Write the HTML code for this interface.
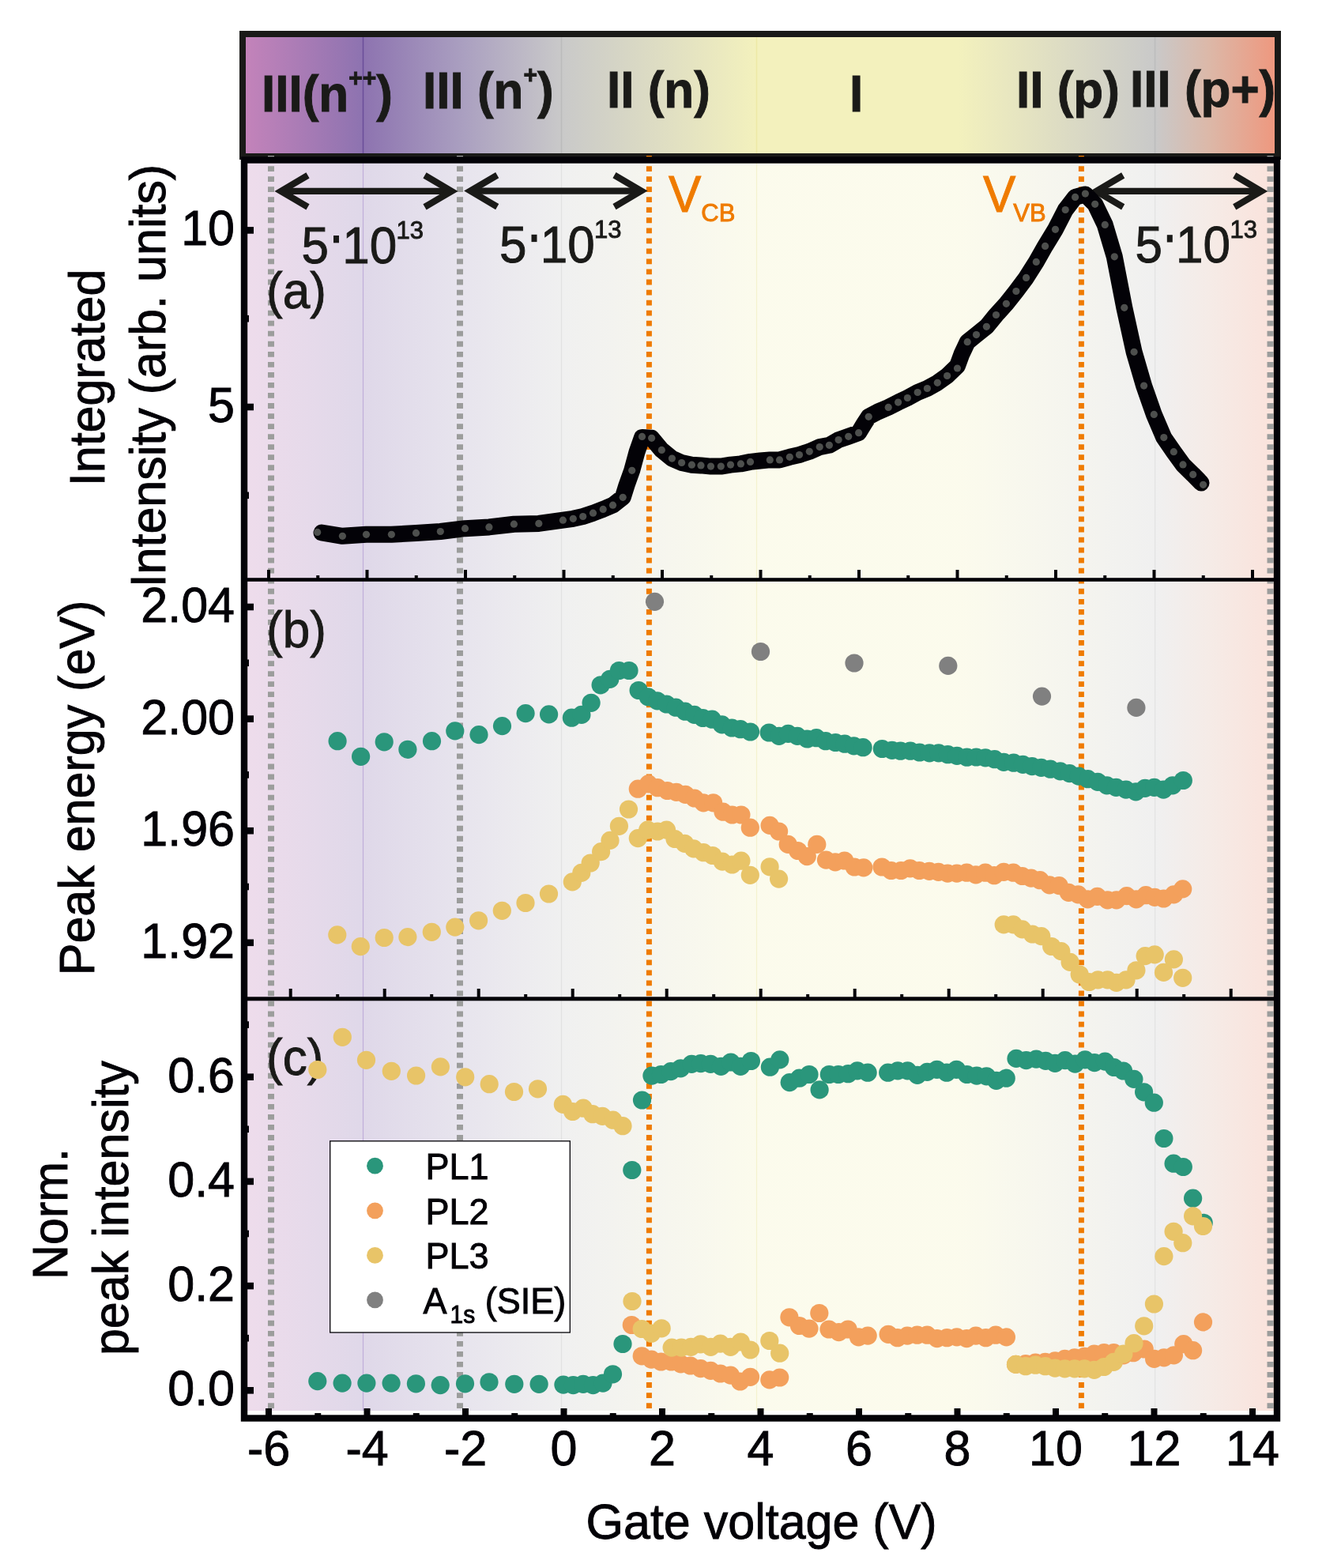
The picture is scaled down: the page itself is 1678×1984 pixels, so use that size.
<!DOCTYPE html>
<html><head><meta charset="utf-8"><title>Gate voltage dependence</title>
<style>
html,body{margin:0;padding:0;background:#fff;}
body{width:1678px;height:1984px;overflow:hidden;}
svg{display:block;}
text{font-family:"Liberation Sans", Arial, Helvetica, sans-serif;}
</style></head><body>
<svg width="1678" height="1984" viewBox="0 0 1678 1984">
<defs>
<linearGradient id="g" gradientUnits="userSpaceOnUse" x1="311" y1="0" x2="1613" y2="0"><stop offset="0.00000" stop-color="#c383ba"/><stop offset="0.11406" stop-color="#8d73b0"/><stop offset="0.21045" stop-color="#aa9fc0"/><stop offset="0.30684" stop-color="#c9c9c9"/><stop offset="0.49654" stop-color="#f3f1bd"/><stop offset="0.69278" stop-color="#f3f1bd"/><stop offset="0.88372" stop-color="#c9c9c9"/><stop offset="0.93625" stop-color="#dcb8a8"/><stop offset="1.00000" stop-color="#ee987f"/></linearGradient>
</defs>
<rect x="0" y="0" width="1678" height="1984" fill="#fff"/>

<g id="header">
<rect x="307" y="43" width="1310" height="155" fill="url(#g)"/>
<rect x="458.75" y="47" width="1.5" height="149" fill="#5d3f92" opacity="0.7"/>
<rect x="709.75" y="47" width="1.5" height="149" fill="#a0a0a0" opacity="0.35"/>
<rect x="956.75" y="47" width="1.5" height="149" fill="#e9e496" opacity="0.6"/>
<rect x="1460.85" y="47" width="1.5" height="149" fill="#a8a8a8" opacity="0.35"/>
<rect x="307" y="43" width="1310" height="155" fill="none" stroke="#1a1a18" stroke-width="8"/>
<text transform="translate(331 140.8) scale(1 1.04)" font-weight="bold" font-size="62" fill="#1a1a18" stroke="#1a1a18" stroke-width="0.9">III(n<tspan font-size="30" dy="-31" stroke="#1a1a18" stroke-width="0.9">++</tspan><tspan dy="31">)</tspan></text>
<text transform="translate(535 137) scale(1 1.04)" font-weight="bold" font-size="62" fill="#1a1a18" stroke="#1a1a18" stroke-width="0.9">III (n<tspan font-size="30" dy="-31" stroke="#1a1a18" stroke-width="0.9">+</tspan><tspan dy="31">)</tspan></text>
<text transform="translate(768 136) scale(1 1.04)" font-weight="bold" font-size="62" fill="#1a1a18" stroke="#1a1a18" stroke-width="0.9">II (n)</text>
<text transform="translate(1075 140.8) scale(1 1.04)" font-weight="bold" font-size="62" fill="#1a1a18" stroke="#1a1a18" stroke-width="0.9">I</text>
<text transform="translate(1286 135.7) scale(1 1.04)" font-weight="bold" font-size="62" fill="#1a1a18" stroke="#1a1a18" stroke-width="0.9">II (p)</text>
<text transform="translate(1430 134.7) scale(1 1.04)" font-weight="bold" font-size="62" fill="#1a1a18" stroke="#1a1a18" stroke-width="0.9">III (p+)</text>
</g>
<g id="bg">
<rect x="313" y="206" width="1299" height="1579" fill="url(#g)" opacity="0.28"/>
<rect x="458.9" y="206" width="1.2" height="1579" fill="#b9a5d6" opacity="0.8"/>
<rect x="709.9" y="206" width="1.2" height="1579" fill="#d8d8d8" opacity="0.6"/>
<rect x="956.9" y="206" width="1.2" height="1579" fill="#f2eec0" opacity="0.7"/>
<rect x="1461.0" y="206" width="1.2" height="1579" fill="#dadada" opacity="0.6"/>
</g>
<g id="dots">
<line x1="343" y1="197.1" x2="343" y2="1785" stroke="#9c9d9c" stroke-width="8" stroke-dasharray="6.8 6.242"/>
<line x1="582" y1="197.1" x2="582" y2="1785" stroke="#9c9d9c" stroke-width="8" stroke-dasharray="6.8 6.242"/>
<line x1="1607.5" y1="197.1" x2="1607.5" y2="1785" stroke="#9c9d9c" stroke-width="8" stroke-dasharray="6.8 6.242"/>
<line x1="821.4" y1="197.1" x2="821.4" y2="1785" stroke="#ef7b00" stroke-width="7" stroke-dasharray="6.8 6.242"/>
<line x1="1368.4" y1="197.1" x2="1368.4" y2="1785" stroke="#ef7b00" stroke-width="7" stroke-dasharray="6.8 6.242"/>
</g>
<text transform="translate(337 389.5) scale(1 1.04)" font-size="62" fill="#1a1a18" stroke="#1a1a18" stroke-width="0.9">(a)</text>
<text transform="translate(337 819) scale(1 1.04)" font-size="62" fill="#1a1a18" stroke="#1a1a18" stroke-width="0.9">(b)</text>
<text transform="translate(337 1360) scale(1 1.04)" font-size="62" fill="#1a1a18" stroke="#1a1a18" stroke-width="0.9">(c)</text>
<line x1="356" y1="241.9" x2="571" y2="241.9" stroke="#1a1a18" stroke-width="8.2"/><polyline points="389.5,221.9 355.5,241.9 389.5,261.9" fill="none" stroke="#1a1a18" stroke-width="8.2" stroke-linejoin="miter" stroke-miterlimit="10"/><polyline points="537.5,221.9 571.5,241.9 537.5,261.9" fill="none" stroke="#1a1a18" stroke-width="8.2" stroke-linejoin="miter" stroke-miterlimit="10"/>
<line x1="595.7" y1="241.6" x2="811" y2="241.6" stroke="#1a1a18" stroke-width="8.2"/><polyline points="629.2,221.6 595.2,241.6 629.2,261.6" fill="none" stroke="#1a1a18" stroke-width="8.2" stroke-linejoin="miter" stroke-miterlimit="10"/><polyline points="777.5,221.6 811.5,241.6 777.5,261.6" fill="none" stroke="#1a1a18" stroke-width="8.2" stroke-linejoin="miter" stroke-miterlimit="10"/>
<line x1="1387.7" y1="241.9" x2="1595.7" y2="241.9" stroke="#1a1a18" stroke-width="8.2"/><polyline points="1421.2,221.9 1387.2,241.9 1421.2,261.9" fill="none" stroke="#1a1a18" stroke-width="8.2" stroke-linejoin="miter" stroke-miterlimit="10"/><polyline points="1562.2,221.9 1596.2,241.9 1562.2,261.9" fill="none" stroke="#1a1a18" stroke-width="8.2" stroke-linejoin="miter" stroke-miterlimit="10"/>
<text transform="translate(381.6 332.8) scale(1 1.04)" font-size="62" fill="#1a1a18" stroke="#1a1a18" stroke-width="0.9">5</text><rect x="422.0" y="298.0" width="7" height="9.3" fill="#1a1a18"/><text transform="translate(433.20000000000005 332.8) scale(1 1.04)" font-size="62" fill="#1a1a18" stroke="#1a1a18" stroke-width="0.9">10</text><text transform="translate(501.6 301.8) scale(1 1.04)" font-size="31" fill="#1a1a18" stroke="#1a1a18" stroke-width="0.9">13</text>
<text transform="translate(632.1 331.6) scale(1 1.04)" font-size="62" fill="#1a1a18" stroke="#1a1a18" stroke-width="0.9">5</text><rect x="672.5" y="296.8" width="7" height="9.3" fill="#1a1a18"/><text transform="translate(683.7 331.6) scale(1 1.04)" font-size="62" fill="#1a1a18" stroke="#1a1a18" stroke-width="0.9">10</text><text transform="translate(752.1 300.6) scale(1 1.04)" font-size="31" fill="#1a1a18" stroke="#1a1a18" stroke-width="0.9">13</text>
<text transform="translate(1436.4 332) scale(1 1.04)" font-size="62" fill="#1a1a18" stroke="#1a1a18" stroke-width="0.9">5</text><rect x="1476.8000000000002" y="297.2" width="7" height="9.3" fill="#1a1a18"/><text transform="translate(1488.0 332) scale(1 1.04)" font-size="62" fill="#1a1a18" stroke="#1a1a18" stroke-width="0.9">10</text><text transform="translate(1556.4 301) scale(1 1.04)" font-size="31" fill="#1a1a18" stroke="#1a1a18" stroke-width="0.9">13</text>
<text transform="translate(846 268.3) scale(1 1.04)" font-size="62" fill="#ef7b00" stroke="#ef7b00" stroke-width="0.9">V<tspan font-size="31" dy="11.5">CB</tspan></text>
<text transform="translate(1244 268.3) scale(1 1.04)" font-size="62" fill="#ef7b00" stroke="#ef7b00" stroke-width="0.9">V<tspan font-size="31" dx="-3" dy="11">VB</tspan></text>
<polyline points="407,674 433.4,678.3 463.5,676.3 495.4,676.3 526.5,674.4 557.3,672.5 588.5,668.7 618.9,666.9 650.4,663.2 681.8,662.4 712.4,658.2 725.3,656.3 737.7,653.5 750.5,649.2 763.2,644.4 775.5,639.2 788.2,629.3 793,614 799.7,595.3 806,572 812.5,553.4 824.6,554.3 837.3,569.4 850.4,580.1 862.6,585.5 875.4,588.2 887,588.9 899.5,590.1 912.3,590.1 924.5,588.1 937.4,586.9 949.5,584.4 962,583 974.3,581.9 986.5,581.9 999.3,578.3 1011.5,575.5 1024.3,571.3 1037.2,565.6 1049.4,563.3 1061.1,556.6 1073.7,552.3 1086.6,547.7 1093,537 1099.2,527.3 1111,521 1124.2,515.4 1136.6,509.1 1148.4,503.5 1161.2,496.5 1173.4,491.5 1186.3,484.3 1198.6,475.5 1211.5,463 1217,448 1224.2,432.7 1235.5,423.6 1248.4,413.3 1260.5,398.5 1273.4,384.3 1285.9,368.5 1298.6,351.4 1311.3,331.4 1322.6,311.4 1335.5,290.3 1348.2,265.5 1360.6,249.4 1373.4,246 1385.7,258.3 1398.3,284.4 1410.3,324.8 1422.8,389.3 1435.1,445.3 1447.6,488.1 1460.3,524.4 1472.8,553.6 1485.3,571.7 1497,587.9 1509.7,600.4 1520,611" fill="none" stroke="#030207" stroke-width="21" stroke-linejoin="round" stroke-linecap="round"/>
<g fill="#4d4f4d"><circle cx="401.7" cy="673.4" r="4.6"/><circle cx="433.4" cy="678.3" r="4.6"/><circle cx="463.5" cy="676.3" r="4.6"/><circle cx="495.4" cy="676.3" r="4.6"/><circle cx="526.5" cy="674.4" r="4.6"/><circle cx="557.3" cy="672.5" r="4.6"/><circle cx="588.5" cy="668.7" r="4.6"/><circle cx="618.9" cy="666.9" r="4.6"/><circle cx="650.4" cy="663.2" r="4.6"/><circle cx="681.8" cy="662.4" r="4.6"/><circle cx="712.4" cy="658.2" r="4.6"/><circle cx="725.3" cy="656.3" r="4.6"/><circle cx="737.7" cy="653.5" r="4.6"/><circle cx="750.5" cy="649.2" r="4.6"/><circle cx="763.2" cy="644.4" r="4.6"/><circle cx="775.5" cy="639.2" r="4.6"/><circle cx="788.2" cy="629.3" r="4.6"/><circle cx="799.7" cy="595.3" r="4.6"/><circle cx="812.5" cy="552.4" r="4.6"/><circle cx="824.6" cy="554.3" r="4.6"/><circle cx="837.3" cy="569.4" r="4.6"/><circle cx="850.4" cy="580.1" r="4.6"/><circle cx="862.6" cy="585.5" r="4.6"/><circle cx="875.4" cy="588.2" r="4.6"/><circle cx="887" cy="588.9" r="4.6"/><circle cx="899.5" cy="590.1" r="4.6"/><circle cx="912.3" cy="590.1" r="4.6"/><circle cx="924.5" cy="588.1" r="4.6"/><circle cx="937.4" cy="586.9" r="4.6"/><circle cx="949.5" cy="584.4" r="4.6"/><circle cx="974.3" cy="581.9" r="4.6"/><circle cx="986.5" cy="581.9" r="4.6"/><circle cx="999.3" cy="578.3" r="4.6"/><circle cx="1011.5" cy="575.5" r="4.6"/><circle cx="1024.3" cy="571.3" r="4.6"/><circle cx="1037.2" cy="565.6" r="4.6"/><circle cx="1049.4" cy="563.3" r="4.6"/><circle cx="1061.1" cy="556.6" r="4.6"/><circle cx="1073.7" cy="552.3" r="4.6"/><circle cx="1086.6" cy="547.7" r="4.6"/><circle cx="1099.2" cy="527.3" r="4.6"/><circle cx="1124.2" cy="515.4" r="4.6"/><circle cx="1136.6" cy="509.1" r="4.6"/><circle cx="1148.4" cy="503.5" r="4.6"/><circle cx="1161.2" cy="496.5" r="4.6"/><circle cx="1173.4" cy="491.5" r="4.6"/><circle cx="1186.3" cy="484.3" r="4.6"/><circle cx="1198.6" cy="475.5" r="4.6"/><circle cx="1211.5" cy="466" r="4.6"/><circle cx="1224.2" cy="432.7" r="4.6"/><circle cx="1235.5" cy="423.6" r="4.6"/><circle cx="1248.4" cy="413.3" r="4.6"/><circle cx="1260.5" cy="398.5" r="4.6"/><circle cx="1273.4" cy="384.3" r="4.6"/><circle cx="1285.9" cy="368.5" r="4.6"/><circle cx="1298.6" cy="351.4" r="4.6"/><circle cx="1311.3" cy="331.4" r="4.6"/><circle cx="1322.6" cy="311.4" r="4.6"/><circle cx="1335.5" cy="290.3" r="4.6"/><circle cx="1348.2" cy="265.5" r="4.6"/><circle cx="1360.6" cy="249.4" r="4.6"/><circle cx="1373.4" cy="245.1" r="4.6"/><circle cx="1385.7" cy="258.3" r="4.6"/><circle cx="1398.3" cy="284.4" r="4.6"/><circle cx="1410.3" cy="324.8" r="4.6"/><circle cx="1422.8" cy="389.3" r="4.6"/><circle cx="1435.1" cy="445.3" r="4.6"/><circle cx="1447.6" cy="488.1" r="4.6"/><circle cx="1460.3" cy="524.4" r="4.6"/><circle cx="1472.8" cy="553.6" r="4.6"/><circle cx="1485.3" cy="571.7" r="4.6"/><circle cx="1497" cy="587.9" r="4.6"/><circle cx="1509.7" cy="600.4" r="4.6"/><circle cx="1522.6" cy="613.3" r="4.6"/></g>
<g fill="#2a967b"><circle cx="427.1" cy="937.7" r="11.6"/><circle cx="456.6" cy="957.3" r="11.6"/><circle cx="486.2" cy="938.8" r="11.6"/><circle cx="515.9" cy="948.3" r="11.6"/><circle cx="546.5" cy="937.7" r="11.6"/><circle cx="575.8" cy="924.9" r="11.6"/><circle cx="606" cy="929.6" r="11.6"/><circle cx="635.5" cy="918.6" r="11.6"/><circle cx="665.1" cy="902.6" r="11.6"/><circle cx="694.6" cy="903.9" r="11.6"/><circle cx="723.4" cy="908.2" r="11.6"/><circle cx="735.9" cy="904.4" r="11.6"/><circle cx="748.1" cy="889.3" r="11.6"/><circle cx="760.1" cy="866.8" r="11.6"/><circle cx="771.8" cy="859.3" r="11.6"/><circle cx="783.4" cy="848.5" r="11.6"/><circle cx="796" cy="848.5" r="11.6"/><circle cx="808.1" cy="873.5" r="11.6"/><circle cx="820.2" cy="881.8" r="11.6"/><circle cx="831.8" cy="886.8" r="11.6"/><circle cx="843.5" cy="891" r="11.6"/><circle cx="855.2" cy="895.2" r="11.6"/><circle cx="866.9" cy="900.2" r="11.6"/><circle cx="878.6" cy="904.4" r="11.6"/><circle cx="889.4" cy="908.5" r="11.6"/><circle cx="901.1" cy="910.2" r="11.6"/><circle cx="913.6" cy="916.9" r="11.6"/><circle cx="926.1" cy="921" r="11.6"/><circle cx="937" cy="922.7" r="11.6"/><circle cx="949.5" cy="926" r="11.6"/><circle cx="973.2" cy="927" r="11.6"/><circle cx="985.8" cy="931.4" r="11.6"/><circle cx="997.4" cy="928.4" r="11.6"/><circle cx="1009" cy="931.4" r="11.6"/><circle cx="1021.5" cy="935" r="11.6"/><circle cx="1033.1" cy="933.7" r="11.6"/><circle cx="1044.8" cy="937.7" r="11.6"/><circle cx="1057.3" cy="939.5" r="11.6"/><circle cx="1068.9" cy="941.2" r="11.6"/><circle cx="1080.5" cy="943.9" r="11.6"/><circle cx="1092.1" cy="945.7" r="11.6"/><circle cx="1116.3" cy="947.5" r="11.6"/><circle cx="1128.8" cy="949.3" r="11.6"/><circle cx="1139.5" cy="950.2" r="11.6"/><circle cx="1152" cy="950.2" r="11.6"/><circle cx="1163.7" cy="952" r="11.6"/><circle cx="1176.2" cy="952.9" r="11.6"/><circle cx="1187.8" cy="952.9" r="11.6"/><circle cx="1199.4" cy="954.7" r="11.6"/><circle cx="1211" cy="956.4" r="11.6"/><circle cx="1223.6" cy="958.2" r="11.6"/><circle cx="1235.4" cy="958" r="11.6"/><circle cx="1247" cy="958.9" r="11.6"/><circle cx="1258.6" cy="960.7" r="11.6"/><circle cx="1270.2" cy="964.3" r="11.6"/><circle cx="1282.7" cy="965.2" r="11.6"/><circle cx="1294.4" cy="967.3" r="11.6"/><circle cx="1306" cy="969.6" r="11.6"/><circle cx="1317.6" cy="971.4" r="11.6"/><circle cx="1329.2" cy="973.2" r="11.6"/><circle cx="1341.7" cy="975.9" r="11.6"/><circle cx="1353.4" cy="978.6" r="11.6"/><circle cx="1365" cy="982.1" r="11.6"/><circle cx="1376.6" cy="985.7" r="11.6"/><circle cx="1389.1" cy="989.3" r="11.6"/><circle cx="1400.7" cy="993.8" r="11.6"/><circle cx="1412.4" cy="996.4" r="11.6"/><circle cx="1424.9" cy="999.1" r="11.6"/><circle cx="1437.4" cy="1001.8" r="11.6"/><circle cx="1449" cy="997.3" r="11.6"/><circle cx="1460.6" cy="996.4" r="11.6"/><circle cx="1472.3" cy="999.1" r="11.6"/><circle cx="1483.9" cy="993.8" r="11.6"/><circle cx="1497.3" cy="987.5" r="11.6"/></g>
<g fill="#f3a05c"><circle cx="807.3" cy="998.2" r="11.6"/><circle cx="820.6" cy="991.9" r="11.6"/><circle cx="832.1" cy="996.7" r="11.6"/><circle cx="844.5" cy="1000.5" r="11.6"/><circle cx="855.9" cy="1002.4" r="11.6"/><circle cx="867.3" cy="1005.3" r="11.6"/><circle cx="878.8" cy="1010" r="11.6"/><circle cx="890.2" cy="1015.8" r="11.6"/><circle cx="902.6" cy="1015.8" r="11.6"/><circle cx="915" cy="1027.2" r="11.6"/><circle cx="926.5" cy="1031" r="11.6"/><circle cx="937.9" cy="1031" r="11.6"/><circle cx="949.3" cy="1047.2" r="11.6"/><circle cx="974.1" cy="1044.4" r="11.6"/><circle cx="985.6" cy="1052" r="11.6"/><circle cx="997.2" cy="1068.4" r="11.6"/><circle cx="1009.7" cy="1076.5" r="11.6"/><circle cx="1021.3" cy="1083.6" r="11.6"/><circle cx="1033.8" cy="1068.4" r="11.6"/><circle cx="1045.4" cy="1088.1" r="11.6"/><circle cx="1057" cy="1090.8" r="11.6"/><circle cx="1068.7" cy="1089" r="11.6"/><circle cx="1081.2" cy="1097" r="11.6"/><circle cx="1092.8" cy="1097.9" r="11.6"/><circle cx="1116" cy="1097" r="11.6"/><circle cx="1127.7" cy="1101.5" r="11.6"/><circle cx="1140.2" cy="1101.5" r="11.6"/><circle cx="1151.8" cy="1098.8" r="11.6"/><circle cx="1163.4" cy="1101.5" r="11.6"/><circle cx="1176" cy="1102.4" r="11.6"/><circle cx="1187.6" cy="1103.3" r="11.6"/><circle cx="1199.2" cy="1105.1" r="11.6"/><circle cx="1210.8" cy="1105.1" r="11.6"/><circle cx="1223.3" cy="1104.2" r="11.6"/><circle cx="1234.9" cy="1106.9" r="11.6"/><circle cx="1246.9" cy="1104.2" r="11.6"/><circle cx="1258.1" cy="1107.7" r="11.6"/><circle cx="1270.2" cy="1103.3" r="11.6"/><circle cx="1282.3" cy="1104.2" r="11.6"/><circle cx="1293.6" cy="1108.5" r="11.6"/><circle cx="1304.8" cy="1111.1" r="11.6"/><circle cx="1316" cy="1113.7" r="11.6"/><circle cx="1328.1" cy="1119.8" r="11.6"/><circle cx="1340.2" cy="1120.6" r="11.6"/><circle cx="1352.3" cy="1129.3" r="11.6"/><circle cx="1364.4" cy="1131.9" r="11.6"/><circle cx="1376.5" cy="1137.9" r="11.6"/><circle cx="1388.6" cy="1134.4" r="11.6"/><circle cx="1401.6" cy="1138.8" r="11.6"/><circle cx="1412.8" cy="1138.8" r="11.6"/><circle cx="1425.8" cy="1133.6" r="11.6"/><circle cx="1437.9" cy="1137.9" r="11.6"/><circle cx="1450" cy="1132.7" r="11.6"/><circle cx="1461.2" cy="1135.3" r="11.6"/><circle cx="1472.5" cy="1137" r="11.6"/><circle cx="1485.4" cy="1131.9" r="11.6"/><circle cx="1496.7" cy="1124.9" r="11.6"/></g>
<g fill="#e8c468"><circle cx="426.8" cy="1182.9" r="11.6"/><circle cx="456.3" cy="1197.6" r="11.6"/><circle cx="486.2" cy="1186.5" r="11.6"/><circle cx="515.9" cy="1185.6" r="11.6"/><circle cx="546.3" cy="1179.3" r="11.6"/><circle cx="575.8" cy="1173.1" r="11.6"/><circle cx="605.6" cy="1164.8" r="11.6"/><circle cx="635.3" cy="1152.3" r="11.6"/><circle cx="665" cy="1142.5" r="11.6"/><circle cx="694.5" cy="1131" r="11.6"/><circle cx="724.3" cy="1115.9" r="11.6"/><circle cx="735.8" cy="1104.4" r="11.6"/><circle cx="747.2" cy="1092" r="11.6"/><circle cx="760.6" cy="1077.7" r="11.6"/><circle cx="772" cy="1063.4" r="11.6"/><circle cx="783.4" cy="1045.3" r="11.6"/><circle cx="795.5" cy="1024" r="11.6"/><circle cx="807.3" cy="1060.6" r="11.6"/><circle cx="819.7" cy="1050.1" r="11.6"/><circle cx="832.1" cy="1052" r="11.6"/><circle cx="843.5" cy="1050.1" r="11.6"/><circle cx="854" cy="1061.5" r="11.6"/><circle cx="866.4" cy="1067.3" r="11.6"/><circle cx="877.8" cy="1073.9" r="11.6"/><circle cx="890.2" cy="1078.7" r="11.6"/><circle cx="901.7" cy="1082.5" r="11.6"/><circle cx="914.1" cy="1090.1" r="11.6"/><circle cx="926.5" cy="1094" r="11.6"/><circle cx="937.9" cy="1089.2" r="11.6"/><circle cx="949.3" cy="1107.3" r="11.6"/><circle cx="974.1" cy="1096.8" r="11.6"/><circle cx="985.6" cy="1112.1" r="11.6"/><circle cx="1270.2" cy="1169.9" r="11.6"/><circle cx="1282.3" cy="1169.9" r="11.6"/><circle cx="1293.6" cy="1175.9" r="11.6"/><circle cx="1306.5" cy="1182" r="11.6"/><circle cx="1317.8" cy="1184.6" r="11.6"/><circle cx="1330.7" cy="1197.5" r="11.6"/><circle cx="1342.8" cy="1203.6" r="11.6"/><circle cx="1354.1" cy="1217.4" r="11.6"/><circle cx="1366.2" cy="1233" r="11.6"/><circle cx="1378.3" cy="1242.5" r="11.6"/><circle cx="1389.5" cy="1239.9" r="11.6"/><circle cx="1401.6" cy="1239.9" r="11.6"/><circle cx="1412.8" cy="1243.3" r="11.6"/><circle cx="1425" cy="1239.9" r="11.6"/><circle cx="1437.9" cy="1227.8" r="11.6"/><circle cx="1449.1" cy="1209.6" r="11.6"/><circle cx="1461.2" cy="1207.9" r="11.6"/><circle cx="1472.5" cy="1230.4" r="11.6"/><circle cx="1485.4" cy="1213.9" r="11.6"/><circle cx="1496.7" cy="1237.3" r="11.6"/></g>
<g fill="#808080"><circle cx="828.5" cy="761.4" r="11.6"/><circle cx="962.5" cy="824.5" r="11.6"/><circle cx="1081" cy="839" r="11.6"/><circle cx="1199.8" cy="842.4" r="11.6"/><circle cx="1318.5" cy="881.1" r="11.6"/><circle cx="1437.9" cy="895.4" r="11.6"/></g>
<g fill="#2a967b"><circle cx="401.8" cy="1747.6" r="11.6"/><circle cx="433.1" cy="1750.1" r="11.6"/><circle cx="463.9" cy="1750.1" r="11.6"/><circle cx="495.1" cy="1750.1" r="11.6"/><circle cx="526.4" cy="1750.8" r="11.6"/><circle cx="557.2" cy="1752.6" r="11.6"/><circle cx="588.5" cy="1750.8" r="11.6"/><circle cx="619" cy="1748.8" r="11.6"/><circle cx="650.8" cy="1751.3" r="11.6"/><circle cx="682.1" cy="1751.3" r="11.6"/><circle cx="712.9" cy="1752.1" r="11.6"/><circle cx="725.4" cy="1752.6" r="11.6"/><circle cx="738" cy="1751.3" r="11.6"/><circle cx="750.5" cy="1752.6" r="11.6"/><circle cx="763" cy="1750.1" r="11.6"/><circle cx="775.5" cy="1738.8" r="11.6"/><circle cx="788" cy="1700.5" r="11.6"/><circle cx="799.8" cy="1480.5" r="11.6"/><circle cx="812.5" cy="1392" r="11.6"/><circle cx="824.9" cy="1361.1" r="11.6"/><circle cx="836.5" cy="1359.5" r="11.6"/><circle cx="848.9" cy="1355.6" r="11.6"/><circle cx="861.3" cy="1351.8" r="11.6"/><circle cx="875.2" cy="1346.3" r="11.6"/><circle cx="886.8" cy="1345.6" r="11.6"/><circle cx="899.2" cy="1346.3" r="11.6"/><circle cx="912.4" cy="1349.4" r="11.6"/><circle cx="924.8" cy="1344" r="11.6"/><circle cx="937.2" cy="1349.4" r="11.6"/><circle cx="950.4" cy="1342.5" r="11.6"/><circle cx="974.4" cy="1350.2" r="11.6"/><circle cx="986.8" cy="1340.9" r="11.6"/><circle cx="999.2" cy="1369.6" r="11.6"/><circle cx="1011.6" cy="1364.2" r="11.6"/><circle cx="1024" cy="1359.5" r="11.6"/><circle cx="1037.1" cy="1378.9" r="11.6"/><circle cx="1049.3" cy="1359.5" r="11.6"/><circle cx="1060.9" cy="1359.5" r="11.6"/><circle cx="1073.3" cy="1358.7" r="11.6"/><circle cx="1084.9" cy="1354.9" r="11.6"/><circle cx="1098.1" cy="1357.2" r="11.6"/><circle cx="1123.7" cy="1357.2" r="11.6"/><circle cx="1136.1" cy="1354.9" r="11.6"/><circle cx="1148.5" cy="1354.9" r="11.6"/><circle cx="1160.9" cy="1360.3" r="11.6"/><circle cx="1173.3" cy="1356.4" r="11.6"/><circle cx="1185.6" cy="1353.3" r="11.6"/><circle cx="1198" cy="1357.2" r="11.6"/><circle cx="1210.4" cy="1353.3" r="11.6"/><circle cx="1223.6" cy="1359.5" r="11.6"/><circle cx="1236" cy="1361.1" r="11.6"/><circle cx="1248.4" cy="1361.8" r="11.6"/><circle cx="1260.8" cy="1367.3" r="11.6"/><circle cx="1273.2" cy="1364.2" r="11.6"/><circle cx="1286" cy="1339.4" r="11.6"/><circle cx="1298.6" cy="1341.6" r="11.6"/><circle cx="1311.3" cy="1340.1" r="11.6"/><circle cx="1323.2" cy="1342.3" r="11.6"/><circle cx="1335.1" cy="1345.3" r="11.6"/><circle cx="1347.8" cy="1341.6" r="11.6"/><circle cx="1360.5" cy="1346.1" r="11.6"/><circle cx="1373.1" cy="1340.9" r="11.6"/><circle cx="1385" cy="1344.6" r="11.6"/><circle cx="1398.4" cy="1343.1" r="11.6"/><circle cx="1409.6" cy="1350.5" r="11.6"/><circle cx="1421.5" cy="1355" r="11.6"/><circle cx="1434.9" cy="1365.4" r="11.6"/><circle cx="1447.6" cy="1381.8" r="11.6"/><circle cx="1460.3" cy="1395.2" r="11.6"/><circle cx="1472.9" cy="1440.5" r="11.6"/><circle cx="1485.1" cy="1472.2" r="11.6"/><circle cx="1497.3" cy="1476.5" r="11.6"/><circle cx="1509.6" cy="1516.2" r="11.6"/><circle cx="1523.2" cy="1547.3" r="11.6"/></g>
<g fill="#f3a05c"><circle cx="799.3" cy="1676.5" r="11.6"/><circle cx="812.2" cy="1715.8" r="11.6"/><circle cx="824.3" cy="1720.1" r="11.6"/><circle cx="836.5" cy="1723" r="11.6"/><circle cx="849.4" cy="1723" r="11.6"/><circle cx="861.5" cy="1725.8" r="11.6"/><circle cx="873.7" cy="1728" r="11.6"/><circle cx="886.6" cy="1731.6" r="11.6"/><circle cx="899.4" cy="1734.4" r="11.6"/><circle cx="911.6" cy="1738" r="11.6"/><circle cx="924.5" cy="1740.1" r="11.6"/><circle cx="936.6" cy="1748" r="11.6"/><circle cx="949.5" cy="1742.3" r="11.6"/><circle cx="973.8" cy="1745.9" r="11.6"/><circle cx="986.7" cy="1743" r="11.6"/><circle cx="998.9" cy="1666.8" r="11.6"/><circle cx="1011.5" cy="1677.5" r="11.6"/><circle cx="1024" cy="1681.1" r="11.6"/><circle cx="1036.8" cy="1661.5" r="11.6"/><circle cx="1049" cy="1682" r="11.6"/><circle cx="1061.5" cy="1685.6" r="11.6"/><circle cx="1073.1" cy="1682" r="11.6"/><circle cx="1086.5" cy="1691.9" r="11.6"/><circle cx="1098.2" cy="1690.1" r="11.6"/><circle cx="1124.1" cy="1688.3" r="11.6"/><circle cx="1135.7" cy="1692.7" r="11.6"/><circle cx="1148.2" cy="1690.1" r="11.6"/><circle cx="1160.7" cy="1689.2" r="11.6"/><circle cx="1173.3" cy="1689.2" r="11.6"/><circle cx="1185.8" cy="1693.6" r="11.6"/><circle cx="1198.3" cy="1692.7" r="11.6"/><circle cx="1210.8" cy="1691.9" r="11.6"/><circle cx="1223.3" cy="1693.6" r="11.6"/><circle cx="1234.9" cy="1690.1" r="11.6"/><circle cx="1247.5" cy="1692.7" r="11.6"/><circle cx="1260" cy="1689.2" r="11.6"/><circle cx="1273.4" cy="1691.9" r="11.6"/><circle cx="1285.5" cy="1726.4" r="11.6"/><circle cx="1297.9" cy="1725.6" r="11.6"/><circle cx="1310.3" cy="1724.1" r="11.6"/><circle cx="1322.7" cy="1723.3" r="11.6"/><circle cx="1335.1" cy="1721.8" r="11.6"/><circle cx="1347.5" cy="1719.4" r="11.6"/><circle cx="1359.9" cy="1717.9" r="11.6"/><circle cx="1372.3" cy="1716.3" r="11.6"/><circle cx="1384.7" cy="1713.2" r="11.6"/><circle cx="1397.1" cy="1711.7" r="11.6"/><circle cx="1409.4" cy="1711.7" r="11.6"/><circle cx="1421.8" cy="1714.8" r="11.6"/><circle cx="1434.2" cy="1711.7" r="11.6"/><circle cx="1448.2" cy="1707" r="11.6"/><circle cx="1460.6" cy="1719.4" r="11.6"/><circle cx="1473" cy="1717.9" r="11.6"/><circle cx="1485.4" cy="1714.8" r="11.6"/><circle cx="1497.8" cy="1700.6" r="11.6"/><circle cx="1509.6" cy="1708.7" r="11.6"/><circle cx="1522.5" cy="1672.9" r="11.6"/></g>
<g fill="#e8c468"><circle cx="401.8" cy="1353.5" r="11.6"/><circle cx="433.3" cy="1312.3" r="11.6"/><circle cx="463.5" cy="1341.3" r="11.6"/><circle cx="495.3" cy="1355.3" r="11.6"/><circle cx="526.6" cy="1361" r="11.6"/><circle cx="557.4" cy="1349.9" r="11.6"/><circle cx="588.7" cy="1362.8" r="11.6"/><circle cx="619.2" cy="1371.7" r="11.6"/><circle cx="650.5" cy="1381.5" r="11.6"/><circle cx="680.5" cy="1377.8" r="11.6"/><circle cx="712.4" cy="1397.4" r="11.6"/><circle cx="724.7" cy="1406.5" r="11.6"/><circle cx="738.1" cy="1402.2" r="11.6"/><circle cx="749.9" cy="1409.7" r="11.6"/><circle cx="762.3" cy="1412.4" r="11.6"/><circle cx="775.7" cy="1417.2" r="11.6"/><circle cx="788" cy="1424.7" r="11.6"/><circle cx="800" cy="1646.5" r="11.6"/><circle cx="812.2" cy="1681.5" r="11.6"/><circle cx="824.3" cy="1687.2" r="11.6"/><circle cx="837.2" cy="1680.8" r="11.6"/><circle cx="850.1" cy="1705.1" r="11.6"/><circle cx="862.2" cy="1705.1" r="11.6"/><circle cx="874.4" cy="1704.4" r="11.6"/><circle cx="886.6" cy="1700.8" r="11.6"/><circle cx="899.4" cy="1704.4" r="11.6"/><circle cx="911.6" cy="1700.1" r="11.6"/><circle cx="924.5" cy="1704.4" r="11.6"/><circle cx="937.3" cy="1698" r="11.6"/><circle cx="949.5" cy="1708" r="11.6"/><circle cx="973.8" cy="1696.5" r="11.6"/><circle cx="986.7" cy="1712.2" r="11.6"/><circle cx="1285.5" cy="1726.4" r="11.6"/><circle cx="1297.9" cy="1728.7" r="11.6"/><circle cx="1310.3" cy="1727.2" r="11.6"/><circle cx="1322.7" cy="1728.7" r="11.6"/><circle cx="1335.1" cy="1731.1" r="11.6"/><circle cx="1347.5" cy="1731.8" r="11.6"/><circle cx="1359.9" cy="1731.8" r="11.6"/><circle cx="1372.3" cy="1731.8" r="11.6"/><circle cx="1384.7" cy="1733.4" r="11.6"/><circle cx="1397.1" cy="1729.5" r="11.6"/><circle cx="1409.4" cy="1723.3" r="11.6"/><circle cx="1421.8" cy="1713.2" r="11.6"/><circle cx="1435" cy="1699.7" r="11.6"/><circle cx="1447.7" cy="1677.8" r="11.6"/><circle cx="1460.4" cy="1650" r="11.6"/><circle cx="1472.9" cy="1589.6" r="11.6"/><circle cx="1485.1" cy="1558.3" r="11.6"/><circle cx="1496.8" cy="1572.7" r="11.6"/><circle cx="1509.6" cy="1538.8" r="11.6"/><circle cx="1522.5" cy="1551.5" r="11.6"/></g>
<rect x="417.7" y="1443.8" width="303.6" height="242.2" fill="#fff" stroke="#030207" stroke-width="1.3"/>
<circle cx="474.5" cy="1475.2" r="10.4" fill="#2a967b"/>
<text transform="translate(538.5 1492) scale(1 1.04)" font-size="45" fill="#030207" stroke="#030207" stroke-width="0.9">PL1</text>
<circle cx="474.5" cy="1531.8" r="10.4" fill="#f3a05c"/>
<text transform="translate(538.5 1549.2) scale(1 1.04)" font-size="45" fill="#030207" stroke="#030207" stroke-width="0.9">PL2</text>
<circle cx="474.5" cy="1588.4" r="10.4" fill="#e8c468"/>
<text transform="translate(538.5 1604.5) scale(1 1.04)" font-size="45" fill="#030207" stroke="#030207" stroke-width="0.9">PL3</text>
<circle cx="474.5" cy="1644.9" r="10.4" fill="#808080"/>
<text transform="translate(535.5 1661.7) scale(1 1.04)" font-size="45" fill="#030207" stroke="#030207" stroke-width="0.9">A<tspan font-size="30" dx="4" dy="12">1s</tspan><tspan dy="-12"> (SIE)</tspan></text>
<g id="frame">
<rect x="309" y="202.5" width="1307" height="1592" fill="none" stroke="#030207" stroke-width="8.4"/>
<rect x="313" y="731.2" width="1299" height="4.6" fill="#030207"/>
<rect x="313" y="1261.3" width="1299" height="5" fill="#030207"/>
<rect x="338.0" y="721" width="4" height="11" fill="#030207"/>
<rect x="400.25" y="728" width="4" height="4" fill="#030207"/>
<rect x="462.5" y="721" width="4" height="11" fill="#030207"/>
<rect x="524.75" y="728" width="4" height="4" fill="#030207"/>
<rect x="587.0" y="721" width="4" height="11" fill="#030207"/>
<rect x="649.25" y="728" width="4" height="4" fill="#030207"/>
<rect x="711.5" y="721" width="4" height="11" fill="#030207"/>
<rect x="773.75" y="728" width="4" height="4" fill="#030207"/>
<rect x="836.0" y="721" width="4" height="11" fill="#030207"/>
<rect x="898.25" y="728" width="4" height="4" fill="#030207"/>
<rect x="960.5" y="721" width="4" height="11" fill="#030207"/>
<rect x="1022.75" y="728" width="4" height="4" fill="#030207"/>
<rect x="1085.0" y="721" width="4" height="11" fill="#030207"/>
<rect x="1147.25" y="728" width="4" height="4" fill="#030207"/>
<rect x="1209.5" y="721" width="4" height="11" fill="#030207"/>
<rect x="1271.75" y="728" width="4" height="4" fill="#030207"/>
<rect x="1334.0" y="721" width="4" height="11" fill="#030207"/>
<rect x="1396.25" y="728" width="4" height="4" fill="#030207"/>
<rect x="1458.5" y="721" width="4" height="11" fill="#030207"/>
<rect x="1520.75" y="728" width="4" height="4" fill="#030207"/>
<rect x="1583.0" y="721" width="4" height="11" fill="#030207"/>
<rect x="365.7" y="1251" width="4" height="11" fill="#030207"/>
<rect x="484.7" y="1251" width="4" height="11" fill="#030207"/>
<rect x="603.7" y="1251" width="4" height="11" fill="#030207"/>
<rect x="722.7" y="1251" width="4" height="11" fill="#030207"/>
<rect x="841.7" y="1251" width="4" height="11" fill="#030207"/>
<rect x="960.7" y="1251" width="4" height="11" fill="#030207"/>
<rect x="1079.7" y="1251" width="4" height="11" fill="#030207"/>
<rect x="1198.7" y="1251" width="4" height="11" fill="#030207"/>
<rect x="1317.7" y="1251" width="4" height="11" fill="#030207"/>
<rect x="1436.7" y="1251" width="4" height="11" fill="#030207"/>
<rect x="1555.7" y="1251" width="4" height="11" fill="#030207"/>
<rect x="425.2" y="1258" width="4" height="4" fill="#030207"/>
<rect x="544.2" y="1258" width="4" height="4" fill="#030207"/>
<rect x="663.2" y="1258" width="4" height="4" fill="#030207"/>
<rect x="782.2" y="1258" width="4" height="4" fill="#030207"/>
<rect x="901.2" y="1258" width="4" height="4" fill="#030207"/>
<rect x="1020.2" y="1258" width="4" height="4" fill="#030207"/>
<rect x="1139.2" y="1258" width="4" height="4" fill="#030207"/>
<rect x="1258.2" y="1258" width="4" height="4" fill="#030207"/>
<rect x="1377.2" y="1258" width="4" height="4" fill="#030207"/>
<rect x="1496.2" y="1258" width="4" height="4" fill="#030207"/>
<rect x="336.0" y="1782" width="8" height="9" fill="#030207"/>
<rect x="398.25" y="1788" width="8" height="3" fill="#030207"/>
<rect x="460.5" y="1782" width="8" height="9" fill="#030207"/>
<rect x="522.75" y="1788" width="8" height="3" fill="#030207"/>
<rect x="585.0" y="1782" width="8" height="9" fill="#030207"/>
<rect x="647.25" y="1788" width="8" height="3" fill="#030207"/>
<rect x="709.5" y="1782" width="8" height="9" fill="#030207"/>
<rect x="771.75" y="1788" width="8" height="3" fill="#030207"/>
<rect x="834.0" y="1782" width="8" height="9" fill="#030207"/>
<rect x="896.25" y="1788" width="8" height="3" fill="#030207"/>
<rect x="958.5" y="1782" width="8" height="9" fill="#030207"/>
<rect x="1020.75" y="1788" width="8" height="3" fill="#030207"/>
<rect x="1083.0" y="1782" width="8" height="9" fill="#030207"/>
<rect x="1145.25" y="1788" width="8" height="3" fill="#030207"/>
<rect x="1207.5" y="1782" width="8" height="9" fill="#030207"/>
<rect x="1269.75" y="1788" width="8" height="3" fill="#030207"/>
<rect x="1332.0" y="1782" width="8" height="9" fill="#030207"/>
<rect x="1394.25" y="1788" width="8" height="3" fill="#030207"/>
<rect x="1456.5" y="1782" width="8" height="9" fill="#030207"/>
<rect x="1518.75" y="1788" width="8" height="3" fill="#030207"/>
<rect x="1581.0" y="1782" width="8" height="9" fill="#030207"/>
<rect x="312" y="622.5" width="3" height="8.6" fill="#030207"/>
<rect x="312" y="510.7" width="9" height="8.6" fill="#030207"/>
<rect x="312" y="398.9" width="3" height="8.6" fill="#030207"/>
<rect x="312" y="287.09999999999997" width="9" height="8.6" fill="#030207"/>
<rect x="312" y="1117.7000000000003" width="3" height="8.6" fill="#030207"/>
<rect x="312" y="1188.5000000000002" width="9" height="8.6" fill="#030207"/>
<rect x="312" y="1046.9000000000003" width="9" height="8.6" fill="#030207"/>
<rect x="312" y="976.1000000000001" width="3" height="8.6" fill="#030207"/>
<rect x="312" y="905.3000000000001" width="9" height="8.6" fill="#030207"/>
<rect x="312" y="834.5" width="3" height="8.6" fill="#030207"/>
<rect x="312" y="763.6999999999999" width="9" height="8.6" fill="#030207"/>
<rect x="312" y="1755.0" width="9" height="8.6" fill="#030207"/>
<rect x="312" y="1688.9" width="3" height="8.6" fill="#030207"/>
<rect x="312" y="1622.8" width="9" height="8.6" fill="#030207"/>
<rect x="312" y="1556.7" width="3" height="8.6" fill="#030207"/>
<rect x="312" y="1490.6" width="9" height="8.6" fill="#030207"/>
<rect x="312" y="1424.5" width="3" height="8.6" fill="#030207"/>
<rect x="312" y="1358.4" width="9" height="8.6" fill="#030207"/>
<rect x="312" y="1292.3" width="3" height="8.6" fill="#030207"/>
</g>
<text transform="translate(340.0 1853.7) scale(1 1.04)" text-anchor="middle" font-size="61" fill="#030207" stroke="#030207" stroke-width="0.9">-6</text>
<text transform="translate(464.5 1853.7) scale(1 1.04)" text-anchor="middle" font-size="61" fill="#030207" stroke="#030207" stroke-width="0.9">-4</text>
<text transform="translate(589.0 1853.7) scale(1 1.04)" text-anchor="middle" font-size="61" fill="#030207" stroke="#030207" stroke-width="0.9">-2</text>
<text transform="translate(713.5 1853.7) scale(1 1.04)" text-anchor="middle" font-size="61" fill="#030207" stroke="#030207" stroke-width="0.9">0</text>
<text transform="translate(838.0 1853.7) scale(1 1.04)" text-anchor="middle" font-size="61" fill="#030207" stroke="#030207" stroke-width="0.9">2</text>
<text transform="translate(962.5 1853.7) scale(1 1.04)" text-anchor="middle" font-size="61" fill="#030207" stroke="#030207" stroke-width="0.9">4</text>
<text transform="translate(1087.0 1853.7) scale(1 1.04)" text-anchor="middle" font-size="61" fill="#030207" stroke="#030207" stroke-width="0.9">6</text>
<text transform="translate(1211.5 1853.7) scale(1 1.04)" text-anchor="middle" font-size="61" fill="#030207" stroke="#030207" stroke-width="0.9">8</text>
<text transform="translate(1336.0 1853.7) scale(1 1.04)" text-anchor="middle" font-size="61" fill="#030207" stroke="#030207" stroke-width="0.9">10</text>
<text transform="translate(1460.5 1853.7) scale(1 1.04)" text-anchor="middle" font-size="61" fill="#030207" stroke="#030207" stroke-width="0.9">12</text>
<text transform="translate(1585.0 1853.7) scale(1 1.04)" text-anchor="middle" font-size="61" fill="#030207" stroke="#030207" stroke-width="0.9">14</text>
<text transform="translate(297 310.4) scale(1 1.04)" text-anchor="end" font-size="61" fill="#030207" stroke="#030207" stroke-width="0.9">10</text>
<text transform="translate(297 534) scale(1 1.04)" text-anchor="end" font-size="61" fill="#030207" stroke="#030207" stroke-width="0.9">5</text>
<text transform="translate(297 786.9999999999999) scale(1 1.04)" text-anchor="end" font-size="61" fill="#030207" stroke="#030207" stroke-width="0.9">2.04</text>
<text transform="translate(297 928.6) scale(1 1.04)" text-anchor="end" font-size="61" fill="#030207" stroke="#030207" stroke-width="0.9">2.00</text>
<text transform="translate(297 1070.2000000000003) scale(1 1.04)" text-anchor="end" font-size="61" fill="#030207" stroke="#030207" stroke-width="0.9">1.96</text>
<text transform="translate(297 1211.8000000000002) scale(1 1.04)" text-anchor="end" font-size="61" fill="#030207" stroke="#030207" stroke-width="0.9">1.92</text>
<text transform="translate(297 1381.7) scale(1 1.04)" text-anchor="end" font-size="61" fill="#030207" stroke="#030207" stroke-width="0.9">0.6</text>
<text transform="translate(297 1513.8999999999999) scale(1 1.04)" text-anchor="end" font-size="61" fill="#030207" stroke="#030207" stroke-width="0.9">0.4</text>
<text transform="translate(297 1646.1) scale(1 1.04)" text-anchor="end" font-size="61" fill="#030207" stroke="#030207" stroke-width="0.9">0.2</text>
<text transform="translate(297 1778.3) scale(1 1.04)" text-anchor="end" font-size="61" fill="#030207" stroke="#030207" stroke-width="0.9">0.0</text>
<text transform="translate(132.1 477.9) rotate(-90) scale(1 1.04)" font-size="61" fill="#030207" text-anchor="middle" stroke="#030207" stroke-width="0.9">Integrated</text>
<text transform="translate(209.2 475.6) rotate(-90) scale(1 1.04)" font-size="61" fill="#030207" text-anchor="middle" stroke="#030207" stroke-width="0.9">Intensity (arb. units)</text>
<text transform="translate(119 997) rotate(-90) scale(1 1.04)" font-size="61" fill="#030207" text-anchor="middle" stroke="#030207" stroke-width="0.9">Peak energy (eV)</text>
<text transform="translate(85.4 1536) rotate(-90) scale(1 1.04)" font-size="61" fill="#030207" text-anchor="middle" stroke="#030207" stroke-width="0.9">Norm.</text>
<text transform="translate(162.4 1528.6) rotate(-90) scale(1 1.04)" font-size="61" fill="#030207" text-anchor="middle" stroke="#030207" stroke-width="0.9">peak intensity</text>
<text transform="translate(963.6 1947.2) scale(1 1.04)" font-size="61" fill="#030207" text-anchor="middle" stroke="#030207" stroke-width="0.9">Gate voltage (V)</text>
</svg></body></html>
